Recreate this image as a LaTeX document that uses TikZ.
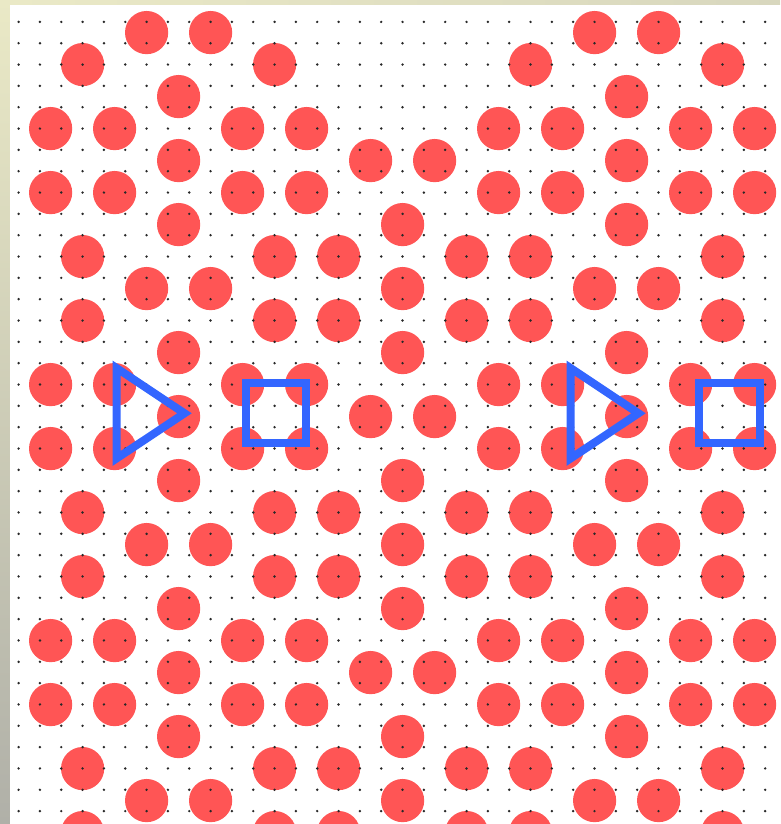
\documentclass[tikz,border=0pt]{standalone}
\begin{document}
\begin{tikzpicture}[x=1pt,y=-1pt,
  disc/.style={fill=circred},
  gdot/.style={fill=dotgray},
  bluemark/.style={draw=markblue,line width=8pt,line join=miter}]
\definecolor{circred}{RGB}{255,85,85}
\definecolor{markblue}{RGB}{51,102,255}
\definecolor{dotgray}{RGB}{40,40,40}
\definecolor{borderA}{RGB}{234,233,198}
\definecolor{borderB}{RGB}{176,176,168}
\definecolor{borderC}{RGB}{216,215,190}
\useasboundingbox (0,0) rectangle (780,824);
% frame strips
\shade[top color=borderA,bottom color=borderB] (0,0) rectangle (10,824);
\shade[left color=borderA,right color=borderC] (10,0) rectangle (780,5);
\fill[white] (10,5) rectangle (780,824);
\begin{scope}
\clip (10,5) rectangle (780,824);
% red discs: rows b with list of a
\foreach \b/\alist in {
 0/{4,6,18,20},
 1/{2,8,16,22},
 2/{5,19},
 3/{1,3,7,9,15,17,21,23},
 4/{5,11,13,19},
 5/{1,3,7,9,15,17,21,23},
 6/{5,12,19},
 7/{2,8,10,14,16,22},
 8/{4,6,12,18,20},
 9/{2,8,10,14,16,22},
 10/{5,12,19},
 11/{1,3,7,9,15,17,21,23},
 12/{5,11,13,19},
 13/{1,3,7,9,15,17,21,23},
 14/{5,12,19},
 15/{2,8,10,14,16,22},
 16/{4,6,12,18,20},
 17/{2,8,10,14,16,22},
 18/{5,12,19},
 19/{1,3,7,9,15,17,21,23},
 20/{5,11,13,19},
 21/{1,3,7,9,15,17,21,23},
 22/{5,12,19},
 23/{2,8,10,14,16,22},
 24/{4,6,12,18,20},
 25/{2,8,10,14,16,22}}{
  \foreach \a in \alist {
    \fill[disc] ({18.6+32*\a},{32.57+32*\b}) circle (21.6);
  }
}
% dot grid
\foreach \i in {0,...,35}{
  \foreach \j in {0,...,37}{
    \fill[gdot] ({18.6+21.33*\i},{21.9+21.33*\j}) circle (1.35);
  }
}
\end{scope}
% blue marks
\coordinate (t1a) at (116.5,368);
\coordinate (t1b) at (184.5,413.3);
\coordinate (t1c) at (116.5,458.5);
\coordinate (t2a) at (570.5,368);
\coordinate (t2b) at (638.5,413.3);
\coordinate (t2c) at (570.5,458.5);
\draw[bluemark] (t1a) -- (t1b) -- (t1c) -- cycle;
\draw[bluemark] (t2a) -- (t2b) -- (t2c) -- cycle;
\coordinate (s1a) at (245.8,382.8);
\coordinate (s1b) at (305.8,443.3);
\coordinate (s2a) at (699.4,382.8);
\coordinate (s2b) at (759.6,443.3);
\draw[bluemark] (s1a) rectangle (s1b);
\draw[bluemark] (s2a) rectangle (s2b);
\end{tikzpicture}
\end{document}
